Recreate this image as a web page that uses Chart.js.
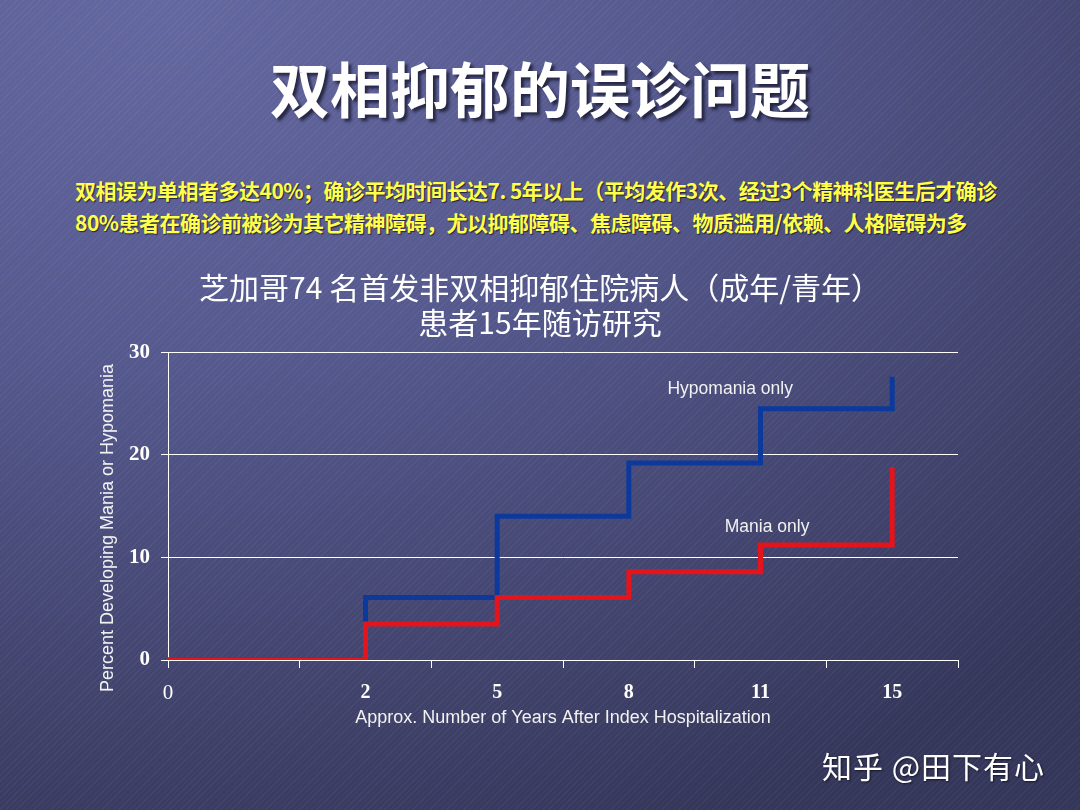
<!DOCTYPE html>
<html>
<head>
<meta charset="utf-8">
<script src="https://cdn.jsdelivr.net/npm/chart.js@4/dist/chart.umd.min.js"></script>
<style>
  html, body { margin: 0; padding: 0; }
  body {
    width: 1080px; height: 810px; overflow: hidden; position: relative;
    background:
      repeating-linear-gradient(135deg, rgba(255,255,255,0.045) 0px, rgba(255,255,255,0.045) 1px, rgba(0,0,0,0) 1px, rgba(0,0,0,0) 4px),
      radial-gradient(ellipse 120% 110% at 15% 0%, #6468a0 0%, #55598e 40%, #40426b 80%, #34365a 100%);
    font-family: "Noto Sans CJK SC", sans-serif;
  }
  #main-title {
    position: absolute; left: 0; width: 1080px; top: 55px; height: 64px; line-height: 64px;
    text-align: center; color: #ffffff; font-size: 60px; font-weight: 700;
    text-shadow: 3px 3px 3px rgba(20,20,40,0.75);
  }
  .note {
    position: absolute; left: 75px; color: #ffff4a; font-size: 21px; font-weight: 700; letter-spacing: -0.5px;
    line-height: 28px; white-space: nowrap; text-shadow: 1px 1px 1px rgba(20,20,40,0.8);
  }
  #note1 { top: 176px; }
  #note2 { top: 208px; }
  #ytitle {
    position: absolute; left: 107px; top: 528px; width: 400px; height: 20px; line-height: 20px;
    margin-left: -200px; margin-top: -10px; text-align: center;
    transform: rotate(-90deg); color: #f2f2f2;
    font-family: "Liberation Sans", Arial, sans-serif; font-size: 18px; white-space: nowrap;
  }
  #watermark {
    position: absolute; left: 822px; top: 745px; color: #ffffff; font-size: 30px; line-height: 40px; letter-spacing: 1px;
    white-space: nowrap; text-shadow: 1px 1px 2px rgba(0,0,0,0.6);
  }
  #chart { position: absolute; left: 0; top: 0; }
</style>
</head>
<body>
<div id="main-title">双相抑郁的误诊问题</div>
<div class="note" id="note1">双相误为单相者多达40%；确诊平均时间长达7. 5年以上（平均发作3次、经过3个精神科医生后才确诊</div>
<div class="note" id="note2">80%患者在确诊前被诊为其它精神障碍，尤以抑郁障碍、焦虑障碍、物质滥用/依赖、人格障碍为多</div>
<canvas id="chart" width="1080" height="810"></canvas>
<div id="ytitle">Percent Developing Mania or Hypomania</div>
<div id="watermark">知乎 @田下有心</div>
<script>
// ---- data ----
const yearLabels = ['0', '2', '5', '8', '11', '15'];
const hypomaniaOnly = [0, 6.1, 14.0, 19.2, 24.5, 27.6];
const maniaOnly = [0, 3.5, 6.1, 8.6, 11.2, 18.8];
const yTicks = [0, 10, 20, 30];
const chartTitle = ['芝加哥74 名首发非双相抑郁住院病人（成年/青年）', '患者15年随访研究'];
const xTitle = 'Approx. Number of Years After Index Hospitalization';
const seriesNames = ['Mania only', 'Hypomania only'];

// category slots: first label sits on the axis origin, the others centred in their slots
const slotOf = (i) => (i === 0 ? 0 : i + 0.5);
const slotCount = yearLabels.length; // 6 slots

const toPoints = (vals) => vals.map((v, i) => ({ x: slotOf(i), y: v }));

// in-chart series labels (data-space anchors)
const seriesLabelAnchors = [
  { text: seriesNames[1], x: 4.27, y: 26.4 },
  { text: seriesNames[0], x: 4.55, y: 12.9 }
];

const labelPlugin = {
  id: 'seriesLabels',
  afterDatasetsDraw(chart) {
    const { ctx, scales } = chart;
    ctx.save();
    ctx.font = '17.5px "Liberation Sans", Arial, sans-serif';
    ctx.fillStyle = '#f2f2f2';
    ctx.textAlign = 'center';
    ctx.textBaseline = 'middle';
    seriesLabelAnchors.forEach(a => {
      ctx.fillText(a.text, scales.x.getPixelForValue(a.x), scales.y.getPixelForValue(a.y));
    });
    ctx.restore();
  }
};

const serif = '"Liberation Serif", "Times New Roman", serif';
const sans = '"Liberation Sans", Arial, sans-serif';

new Chart(document.getElementById('chart'), {
  type: 'line',
  data: {
    datasets: [
      {
        label: seriesNames[0],
        data: toPoints(maniaOnly),
        borderColor: '#e3141c',
        borderWidth: 5,
        stepped: 'before',
        pointRadius: 0,
        fill: false,
        borderCapStyle: 'butt',
        borderJoinStyle: 'miter'
      },
      {
        label: seriesNames[1],
        data: toPoints(hypomaniaOnly),
        borderColor: '#0c3a9c',
        borderWidth: 5,
        stepped: 'before',
        pointRadius: 0,
        fill: false,
        borderCapStyle: 'butt',
        borderJoinStyle: 'miter'
      }
    ]
  },
  options: {
    responsive: false,
    animation: false,
    layout: { padding: { left: 0, right: 0, top: 0, bottom: 78 } },
    plugins: {
      legend: { display: false },
      tooltip: { enabled: false },
      title: {
        display: true,
        text: chartTitle,
        color: '#ffffff',
        font: { family: '"Noto Sans CJK SC", sans-serif', size: 30, weight: 'normal', lineHeight: 1.17 },
        padding: { top: 270, bottom: 12 }
      }
    },
    scales: {
      x: {
        type: 'linear',
        position: 'bottom',
        weight: 0,
        min: 0,
        max: slotCount,
        ticks: { stepSize: 1, display: false },
        grid: { drawOnChartArea: false, drawTicks: true, tickLength: 8, color: '#ffffff', lineWidth: 1 },
        border: { display: true, color: '#ffffff', width: 1 },
        afterFit: (s) => { s.height = 12; }
      },
      x2: {
        type: 'linear',
        position: 'bottom',
        weight: 1,
        min: 0,
        max: slotCount,
        afterBuildTicks: (s) => { s.ticks = yearLabels.map((_, i) => ({ value: slotOf(i) })); },
        ticks: {
          autoSkip: false,
          maxRotation: 0,
          padding: 9,
          color: '#ffffff',
          callback: (v, i) => yearLabels[i],
          font: (ctx) => ({ family: serif, size: ctx.index === 0 ? 21 : 20, weight: ctx.index === 0 ? 'normal' : 'bold' })
        },
        grid: { display: false, drawTicks: false },
        border: { display: false },
        title: {
          display: true,
          text: xTitle,
          color: '#f2f2f2',
          font: { family: sans, size: 18 },
          padding: { top: 0, bottom: 3 }
        },
        afterFit: (s) => { s.height = 60; }
      },
      y: {
        type: 'linear',
        position: 'left',
        min: 0,
        max: 30,
        afterBuildTicks: (s) => { s.ticks = yTicks.map(v => ({ value: v })); },
        ticks: {
          color: '#ffffff',
          padding: 11,
          font: { family: serif, size: 21, weight: 'bold' }
        },
        grid: { color: '#ffffff', lineWidth: 1, tickLength: 7, drawTicks: true },
        border: { display: true, color: '#ffffff', width: 1 },
        afterFit: (s) => { s.width = 168; }
      },
      yR: {
        type: 'linear',
        position: 'right',
        min: 0,
        max: 30,
        ticks: { display: false },
        grid: { display: false },
        border: { display: false },
        afterFit: (s) => { s.width = 122; }
      }
    }
  },
  plugins: [labelPlugin]
});
</script>
</body>
</html>
